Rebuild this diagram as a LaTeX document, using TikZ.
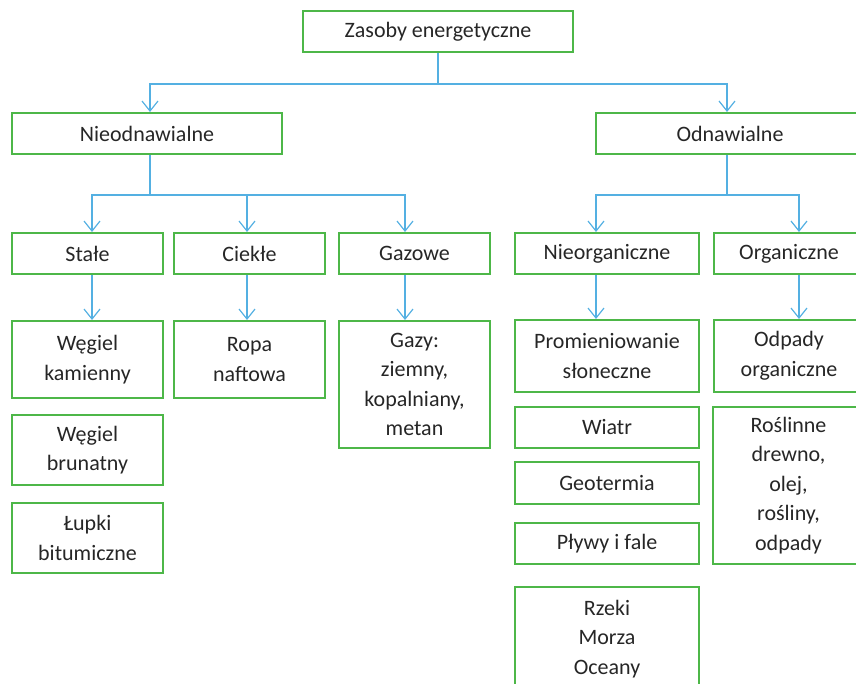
\documentclass[tikz,border=0pt]{standalone}
\usepackage{fontspec}
\setmainfont{Carlito}
\usepackage{tikz}
\usetikzlibrary{arrows.meta, positioning}
\definecolor{boxgreen}{RGB}{77,183,72}
\definecolor{linkblue}{RGB}{84,176,226}
\definecolor{textgrey}{RGB}{38,38,38}

\begin{document}
\begin{tikzpicture}[x=1pt, y=-1pt,
    res node/.style={draw=boxgreen, line width=2pt, text=textgrey, align=center, inner sep=0pt,
        font=\fontsize{22}{29.5}\selectfont, minimum height=41pt},
    link/.style={draw=linkblue, line width=1.2pt, -{Straight Barb[length=10pt, width=16pt]}}]
    \path[use as bounding box, clip] (0,0) rectangle (856,684);

    \node[res node, minimum width=270pt] (zasoby) at (438,31.5) {Zasoby energetyczne};
    \node[res node, minimum width=270pt] (nieodn) at (147,133.5) {Nieodnawialne};
    \node[res node, minimum width=268pt] (odn) at (730,133.5) {Odnawialne};

    \node[res node, minimum width=151pt] (stale) at (87.5,253.5) {Stałe};
    \node[res node, minimum width=151pt] (ciekle) at (249.5,253.5) {Ciekłe};
    \node[res node, minimum width=151pt] (gazowe) at (414.5,253.5) {Gazowe};
    \node[res node, minimum width=184pt] (nieorg) at (607,253.5) {Nieorganiczne};
    \node[res node, minimum width=150pt] (org) at (789,253.5) {Organiczne};

    \node[res node, minimum width=151pt, minimum height=77pt] (wegk) at (87.5,359.5) {Węgiel\\kamienny};
    \node[res node, minimum width=151pt, minimum height=70pt] (wegb) at (87.5,450) {Węgiel\\brunatny};
    \node[res node, minimum width=151pt, minimum height=70pt] (lupki) at (87.5,538) {Łupki\\bitumiczne};
    \node[res node, minimum width=151pt, minimum height=77pt] (ropa) at (249.5,359.5) {Ropa\\naftowa};
    \node[res node, minimum width=151pt, minimum height=127pt] (gazy) at (414.5,384.5) {Gazy:\\ziemny,\\kopalniany,\\metan};

    \node[res node, minimum width=184pt, minimum height=72pt] (prom) at (607,356) {Promieniowanie\\słoneczne};
    \node[res node, minimum width=184pt] (wiatr) at (607,427.5) {Wiatr};
    \node[res node, minimum width=184pt, minimum height=42pt] (geo) at (607,483) {Geotermia};
    \node[res node, minimum width=184pt] (plywy) at (607,543.5) {Pływy i fale};
    \node[res node, minimum width=184pt, minimum height=104pt] (rzeki) at (607,639) {Rzeki\\Morza\\Oceany};

    \node[res node, minimum width=150pt, minimum height=72pt] (odpady) at (789,356) {Odpady\\organiczne};
    \node[res node, minimum width=151pt, minimum height=157pt] (rosl) at (788.5,485.5) {Roślinne\\drewno,\\olej,\\rośliny,\\odpady};

    % first level
    \draw[link] (zasoby.south) -- ++(0,31) -| ([xshift=3pt]nieodn.north);
    \draw[link] (zasoby.south) -- ++(0,31) -| ([xshift=-3pt]odn.north);

    % second level
    \draw[link] ([xshift=3pt]nieodn.south) -- ++(0,40) -| ([xshift=4.5pt]stale.north);
    \draw[link] ([xshift=3pt]nieodn.south) -- ++(0,40) -| ([xshift=-2.5pt]ciekle.north);
    \draw[link] ([xshift=3pt]nieodn.south) -- ++(0,40) -| ([xshift=-9.5pt]gazowe.north);
    \draw[link] ([xshift=-3pt]odn.south) -- ++(0,40) -| ([xshift=-11pt]nieorg.north);
    \draw[link] ([xshift=-3pt]odn.south) -- ++(0,40) -| ([xshift=10pt]org.north);

    % third level
    \draw[link] ([xshift=4.5pt]stale.south) -- ([xshift=4.5pt]wegk.north);
    \draw[link] ([xshift=-2.5pt]ciekle.south) -- ([xshift=-2.5pt]ropa.north);
    \draw[link] ([xshift=-9.5pt]gazowe.south) -- ([xshift=-9.5pt]gazy.north);
    \draw[link] ([xshift=-11pt]nieorg.south) -- ([xshift=-11pt]prom.north);
    \draw[link] ([xshift=10pt]org.south) -- ([xshift=10pt]odpady.north);
\end{tikzpicture}
\end{document}
